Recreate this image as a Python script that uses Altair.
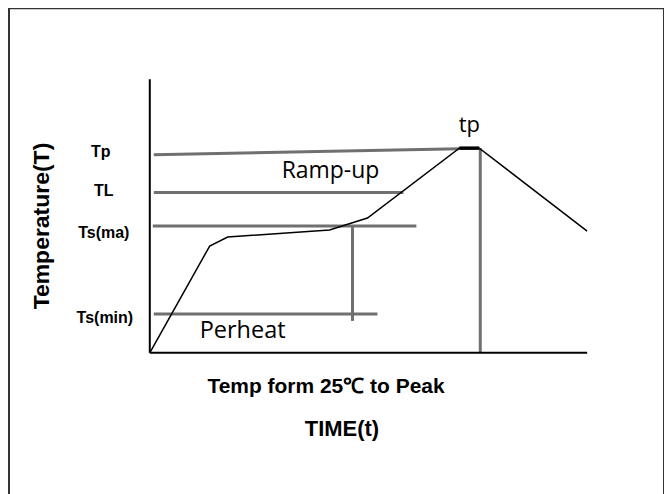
import altair as alt
import pandas as pd

# Profile curve (time offset, temperature offset from origin of the axes)
curve_t = [0, 60, 78, 180, 218, 310, 330, 438]
curve_T = [0, 107, 116, 123, 135, 205, 205, 122]

# Reference (grey) lines
ref_names = ["Tp", "TL", "Ts(ma)", "Ts(min)", "soak end", "peak time"]
ref_t1 = [4, 4, 3, 4, 203, 331]
ref_T1 = [198.5, 160.5, 127, 39, 127, 205]
ref_t2 = [310, 254, 267, 228, 203, 331]
ref_T2 = [204.5, 160.5, 127, 39, 32, 0]

# Axes lines (black)
axis_t1 = [0, 0]
axis_T1 = [0, 0]
axis_t2 = [0, 438]
axis_T2 = [274, 0]

# Peak segment (tp)
peak_t1 = [310]
peak_t2 = [330]
peak_T = [205]

# Level labels (left side)
lvl_text = ["Tp", "TL", "Ts(ma)", "Ts(min)"]
lvl_t = [-49, -46, -46, -45]
lvl_T = [196, 157, 115, 30]

# Region labels
reg_text = ["Ramp-up", "Perheat", "tp"]
reg_t = [181, 93, 320]
reg_T = [175, 15, 221]
reg_size = [23, 23.5, 22]

# Axis captions
cap_text = ["Temp form 25℃ to Peak", "TIME(t)"]
cap_t = [176.5, 192.5]
cap_T = [-40, -83]
cap_size = [21, 22]

ytitle_text = ["Temperature(T)"]
ytitle_t = [-108]
ytitle_T = [127]

xs = alt.Scale(domain=[-141, 515], nice=False, zero=False)
ys = alt.Scale(domain=[-145, 345], nice=False, zero=False)

curve_df = pd.DataFrame({"t": curve_t, "T": curve_T, "o": list(range(len(curve_t)))})
ref_df = pd.DataFrame({"name": ref_names, "t1": ref_t1, "T1": ref_T1, "t2": ref_t2, "T2": ref_T2})
axis_df = pd.DataFrame({"t1": axis_t1, "T1": axis_T1, "t2": axis_t2, "T2": axis_T2})
peak_df = pd.DataFrame({"t1": peak_t1, "t2": peak_t2, "T": peak_T})
lvl_df = pd.DataFrame({"text": lvl_text, "t": lvl_t, "T": lvl_T})
reg_df = pd.DataFrame({"text": reg_text, "t": reg_t, "T": reg_T, "s": reg_size})
cap_df = pd.DataFrame({"text": cap_text, "t": cap_t, "T": cap_T, "s": cap_size})
yt_df = pd.DataFrame({"text": ytitle_text, "t": ytitle_t, "T": ytitle_T})

X = lambda f: alt.X(f, type="quantitative", scale=xs, axis=None)
Y = lambda f: alt.Y(f, type="quantitative", scale=ys, axis=None)

refs = alt.Chart(ref_df).mark_rule(color="#707070", strokeWidth=3).encode(
    x=X("t1"), y=Y("T1"), x2="t2", y2="T2"
)
axes = alt.Chart(axis_df).mark_rule(color="#000000", strokeWidth=2).encode(
    x=X("t1"), y=Y("T1"), x2="t2", y2="T2"
)
curve = alt.Chart(curve_df).mark_line(color="#000000", strokeWidth=1.5).encode(
    x=X("t"), y=Y("T"), order="o"
)
peak = alt.Chart(peak_df).mark_rule(color="#000000", strokeWidth=3.5).encode(
    x=X("t1"), x2="t2", y=Y("T")
)
lvl = alt.Chart(lvl_df).mark_text(
    font="Liberation Sans", fontWeight="bold", fontSize=16, align="center", baseline="alphabetic", color="#000"
).encode(x=X("t"), y=Y("T"), text="text")
reg = alt.Chart(reg_df).mark_text(
    font="Open Sans", align="center", baseline="alphabetic", color="#000"
).encode(x=X("t"), y=Y("T"), text="text", size=alt.Size("s:Q", scale=None, legend=None))
cap = alt.Chart(cap_df).mark_text(
    font="Liberation Sans", fontWeight="bold", align="center", baseline="alphabetic", color="#000"
).encode(x=X("t"), y=Y("T"), text="text", size=alt.Size("s:Q", scale=None, legend=None))
yt = alt.Chart(yt_df).mark_text(
    font="Liberation Sans", fontWeight="bold", fontSize=23, align="center", baseline="middle",
    angle=270, color="#000"
).encode(x=X("t"), y=Y("T"), text="text")

chart = alt.layer(refs, axes, curve, peak, lvl, reg, cap, yt).properties(
    width=656, height=490,
    padding={"left": 1, "top": 0, "right": 0, "bottom": 0},
    autosize=alt.AutoSizeParams(type="none"),
    background="white",
).configure_view(stroke="#333333", strokeWidth=2)

chart.save("out.html", embed_options={"renderer": "svg", "actions": False})
